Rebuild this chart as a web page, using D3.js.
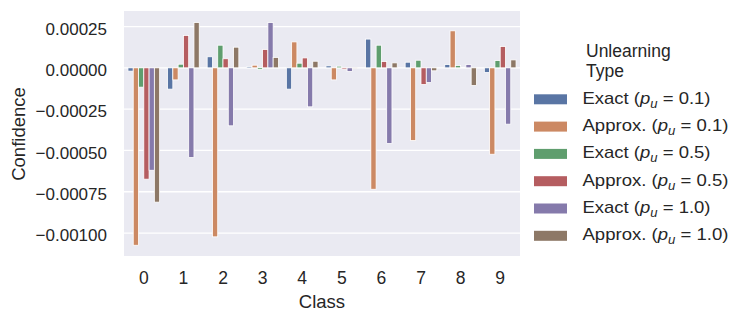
<!DOCTYPE html>
<html>
<head>
<meta charset="utf-8">
<script src="https://cdn.jsdelivr.net/npm/d3@7"></script>
<style>
  body { margin: 0; background: #fff; }
  text { font-family: "Liberation Sans", Arial, sans-serif; fill: #262626; }
</style>
</head>
<body>
<svg id="chart" width="747" height="323"></svg>
<script>
// data
var classes = ["0", "1", "2", "3", "4", "5", "6", "7", "8", "9"];
var seriesNames = ["Exact|0.1", "Approx.|0.1", "Exact|0.5", "Approx.|0.5", "Exact|1.0", "Approx.|1.0"];
var exact01   = [-0.00002, -0.000129, 0.000067, 0.000008, -0.000129, 0.000012, 0.000174, 0.000034, 0.00002, -0.000028];
var approx01  = [-0.001074, -0.000073, -0.001023, 0.000016, 0.000157, -0.000073, -0.000735, -0.00044, 0.000224, -0.000523];
var exact05   = [-0.000117, 0.000022, 0.000137, -0.00001, 0.000028, 0.00001, 0.000137, 0.000046, 0.000014, 0.000044];
var approx05  = [-0.000674, 0.000196, 0.000055, 0.000111, 0.00006, -0.000008, 0.000038, -0.000101, 0.000003, 0.000129];
var exact10   = [-0.00062, -0.000543, -0.000351, 0.000274, -0.000236, -0.000022, -0.000458, -0.000089, 0.00002, -0.000341];
var approx10  = [-0.000813, 0.000274, 0.000125, 0.000063, 0.00004, -0.000003, 0.00003, -0.000018, -0.000107, 0.000048];
var yTicks = [0.00025, 0, -0.00025, -0.0005, -0.00075, -0.001];

var allSeries = [exact01, approx01, exact05, approx05, exact10, approx10];
var colors = ["#5975a4", "#cc8963", "#5f9e6e", "#b55d60", "#857aab", "#8d7866"];

var margin = {left: 124, top: 11, right: 227, bottom: 67};
var width = 747 - margin.left - margin.right;
var height = 323 - margin.top - margin.bottom;

var svg = d3.select("#chart");
var g = svg.append("g").attr("transform", "translate(" + margin.left + "," + margin.top + ")");

var x = d3.scaleBand().domain(classes).range([0, width]).paddingInner(0.2).paddingOuter(0.1);
var xSub = d3.scaleBand().domain(d3.range(6)).range([0, x.bandwidth()]);
var y = d3.scaleLinear().domain([-0.001139, 0.000344]).range([height, 0]);

g.append("rect").attr("width", width).attr("height", height).attr("fill", "#eaeaf2");

// gridlines
g.selectAll(".grid").data(yTicks).enter().append("line")
  .attr("x1", 0).attr("x2", width)
  .attr("y1", function(d) { return y(d); }).attr("y2", function(d) { return y(d); })
  .attr("stroke", "#fff").attr("stroke-width", 1.3);

// bars
var rows = [];
classes.forEach(function(c, i) {
  allSeries.forEach(function(s, j) { rows.push({c: c, j: j, v: s[i]}); });
});
g.selectAll(".bar").data(rows).enter().append("rect")
  .attr("x", function(d) { return x(d.c) + xSub(d.j); })
  .attr("width", xSub.bandwidth())
  .attr("y", function(d) { return Math.min(y(d.v), y(0)); })
  .attr("height", function(d) { return Math.abs(y(d.v) - y(0)); })
  .attr("fill", function(d) { return colors[d.j]; })
  .attr("stroke", "#fff").attr("stroke-width", 0.8);

// axes
var fmt = function(d) { return d3.format(".5f")(d).replace("-", "\u2212"); };
var yAxis = g.append("g").call(d3.axisLeft(y).tickValues(yTicks).tickFormat(fmt).tickSize(0).tickPadding(17));
yAxis.select(".domain").remove();
yAxis.selectAll("text").attr("dy", "0.45em")
  .style("font-size", "17px").style("font-family", "Liberation Sans, Arial, sans-serif").attr("fill", "#262626");

var xAxis = g.append("g").attr("transform", "translate(0," + height + ")")
  .call(d3.axisBottom(x).tickSize(0).tickPadding(15.5));
xAxis.select(".domain").remove();
xAxis.selectAll("text").style("font-size", "17.5px").style("font-family", "Liberation Sans, Arial, sans-serif").attr("fill", "#262626");

svg.append("text").attr("x", margin.left + width / 2).attr("y", 307.5)
  .attr("text-anchor", "middle").style("font-size", "18.5px").text("Class");
svg.append("text").attr("transform", "translate(25," + 134 + ") rotate(-90)")
  .attr("text-anchor", "middle").style("font-size", "18.5px").text("Confidence");

// legend
var leg = svg.append("g");
leg.append("text").attr("x", 586).attr("y", 57).style("font-size", "17.5px").text("Unlearning");
leg.append("text").attr("x", 586).attr("y", 77).style("font-size", "17.5px").text("Type");
var items = leg.selectAll(".item").data(seriesNames).enter().append("g")
  .attr("transform", function(d, i) { return "translate(534," + (99.3 + i * 27.3) + ")"; });
items.append("rect").attr("x", 0).attr("y", -5).attr("width", 33).attr("height", 10)
  .attr("fill", function(d, i) { return colors[i]; });
var t = items.append("text").attr("x", 48.5).attr("y", 4.5).style("font-size", "17px")
  .attr("textLength", function(d) { return d.split("|")[0] === "Exact" ? 128 : 146; })
  .attr("lengthAdjust", "spacingAndGlyphs");
t.append("tspan").text(function(d) { return d.split("|")[0] + " ("; });
t.append("tspan").style("font-style", "italic").text("p");
t.append("tspan").attr("dy", 4).style("font-size", "12px").style("font-style", "italic").text("u");
t.append("tspan").attr("dy", -4).text(function(d) { return " = " + d.split("|")[1] + ")"; });
</script>
</body>
</html>
